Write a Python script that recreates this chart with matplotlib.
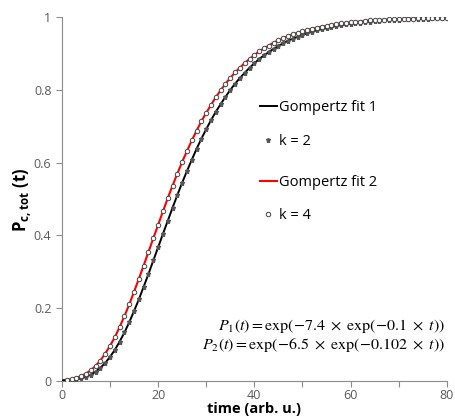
import numpy as np
import matplotlib
matplotlib.use("Agg")
import matplotlib.pyplot as plt

# time axis (arb. u.)
t = list(range(0, 81))

k2 = [0.001, 0.001, 0.002, 0.004, 0.007, 0.011, 0.017, 0.025, 0.036, 0.049,
      0.066, 0.085, 0.108, 0.133, 0.161, 0.192, 0.224, 0.259, 0.294, 0.331,
      0.367, 0.404, 0.440, 0.476, 0.511, 0.545, 0.577, 0.608, 0.638, 0.666,
      0.692, 0.717, 0.740, 0.761, 0.781, 0.800, 0.817, 0.833, 0.847, 0.861,
      0.873, 0.885, 0.895, 0.904, 0.913, 0.921, 0.928, 0.935, 0.941, 0.946,
      0.951, 0.956, 0.960, 0.964, 0.967, 0.970, 0.973, 0.976, 0.978, 0.980,
      0.982, 0.984, 0.985, 0.987, 0.988, 0.989, 0.990, 0.991, 0.992, 0.993,
      0.993, 0.994, 0.995, 0.995, 0.995, 0.996, 0.996, 0.997, 0.997, 0.997,
      0.998]

k4 = [0.002, 0.003, 0.005, 0.008, 0.013, 0.020, 0.029, 0.041, 0.056, 0.075,
      0.096, 0.120, 0.148, 0.178, 0.210, 0.245, 0.281, 0.317, 0.355, 0.392,
      0.429, 0.466, 0.502, 0.537, 0.570, 0.602, 0.632, 0.661, 0.688, 0.714,
      0.737, 0.759, 0.780, 0.799, 0.817, 0.833, 0.848, 0.861, 0.874, 0.885,
      0.896, 0.906, 0.914, 0.922, 0.930, 0.936, 0.942, 0.948, 0.953, 0.957,
      0.961, 0.965, 0.968, 0.971, 0.974, 0.976, 0.979, 0.981, 0.983, 0.984,
      0.986, 0.987, 0.988, 0.990, 0.991, 0.991, 0.992, 0.993, 0.994, 0.994,
      0.995, 0.995, 0.996, 0.996, 0.997, 0.997, 0.997, 0.998, 0.998, 0.998,
      0.998]

fit_labels = ["Gompertz fit 1", "Gompertz fit 2"]
data_labels = ["k = 2", "k = 4"]
eq1 = r"$P_1(t) = \exp(-7.4\ \times\ \exp(-0.1\ \times\ t))$"
eq2 = r"$P_2(t) = \exp(-6.5\ \times\ \exp(-0.102\ \times\ t))$"

plt.rcParams['font.family'] = ['Open Sans', 'DejaVu Sans']
plt.rcParams['mathtext.fontset'] = 'custom'
plt.rcParams['mathtext.rm'] = 'Open Sans'
plt.rcParams['mathtext.bf'] = 'Open Sans:bold'

fig = plt.figure(figsize=(4.55, 4.19), dpi=100)
ax = fig.add_axes([0.136, 0.091, 0.846, 0.868])

gray = '#8c8c8c'
txt = '#595959'

ln1, = ax.plot(t, k2, color='black', lw=1.4, zorder=3)
ln2, = ax.plot(t, k4, color='red', lw=1.5, zorder=2)
mk1, = ax.plot(t[1:], k2[1:], ls='none', marker='*', ms=3.6, color='#555555',
               mec='#555555', zorder=4)
mk2, = ax.plot(t[1:], k4[1:], ls='none', marker='o', ms=3.2, mfc='white',
               mec='#444444', mew=0.7, zorder=4)

ax.set_xlim(0, 80)
ax.set_ylim(0, 1)
ax.set_xticks(np.arange(0, 81, 10))
ax.set_xticklabels([str(v) if v % 20 == 0 else '' for v in range(0, 81, 10)])
ax.set_yticks(np.arange(0, 1.01, 0.2))
ax.set_yticklabels(['0', '0.2', '0.4', '0.6', '0.8', '1'])
ax.tick_params(axis='both', colors=gray, labelcolor=txt, labelsize=9,
               length=4, width=0.8, direction='out')
ax.tick_params(axis='x', pad=1.5)
for s in ['top', 'right']:
    ax.spines[s].set_visible(False)
for s in ['left', 'bottom']:
    ax.spines[s].set_color(gray)
    ax.spines[s].set_linewidth(0.8)

ax.set_xlabel('time (arb. u.)', fontsize=10.5, fontweight='bold')
ax.xaxis.set_label_coords(0.5, -0.058)
ax.set_ylabel(r'P$_{\mathbf{c,tot}}$ (t)', fontsize=12, fontweight='bold')
ax.yaxis.set_label_coords(-0.072, 0.497)

leg1 = ax.legend([ln1, mk1], [fit_labels[0], data_labels[0]],
                 loc='upper left', bbox_to_anchor=(0.495, 0.792), frameon=False,
                 fontsize=10.5, handlelength=1.2, handletextpad=0.1,
                 labelspacing=1.3, borderpad=0)
ax.add_artist(leg1)
leg2 = ax.legend([ln2, mk2], [fit_labels[1], data_labels[1]],
                 loc='upper left', bbox_to_anchor=(0.495, 0.585), frameon=False,
                 fontsize=10.5, handlelength=1.2, handletextpad=0.1,
                 labelspacing=1.2, borderpad=0)

ax.text(0.995, 0.15, eq1, transform=ax.transAxes, ha='right', va='center',
        fontsize=11.5, math_fontfamily='stix')
ax.text(0.995, 0.10, eq2, transform=ax.transAxes, ha='right', va='center',
        fontsize=11.5, math_fontfamily='stix')

fig.savefig('out.png', dpi=100)
